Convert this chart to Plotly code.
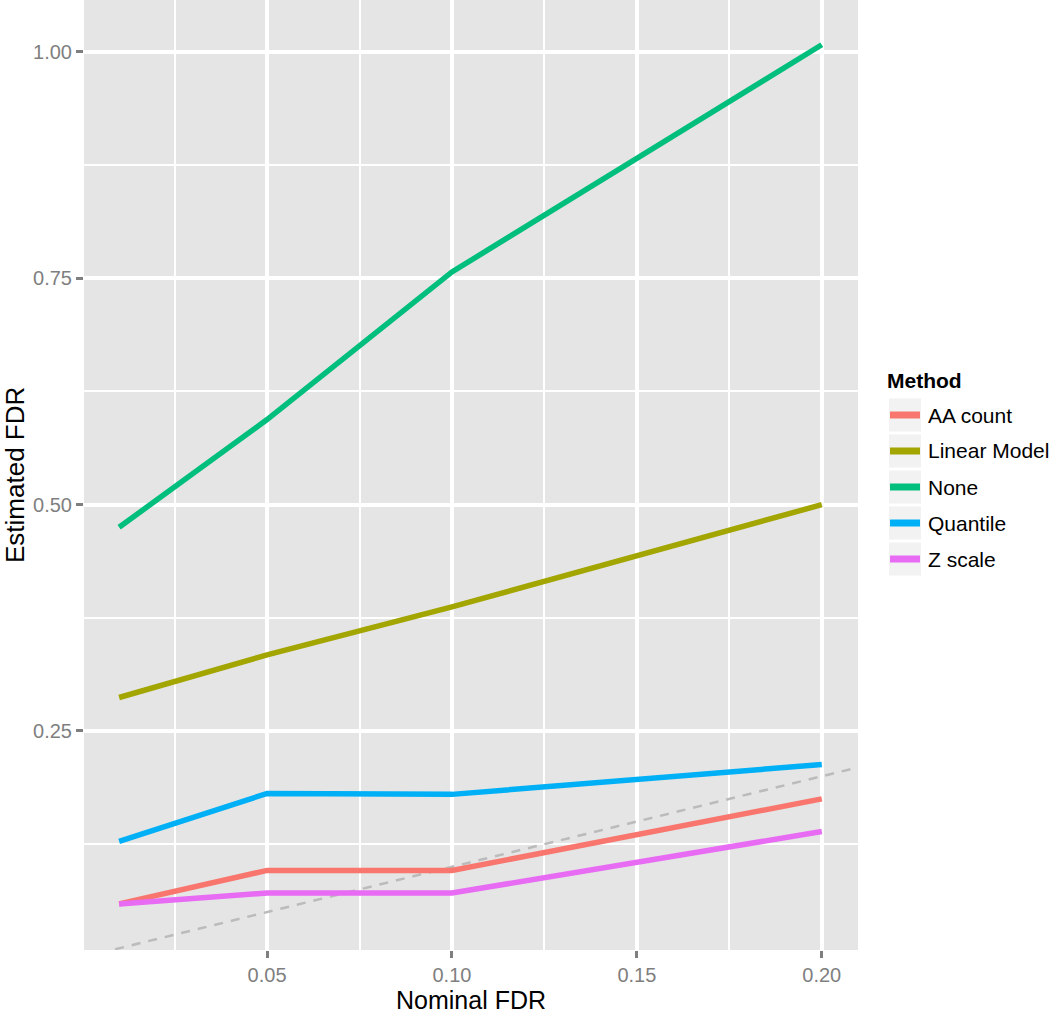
import plotly.graph_objects as go

# ---- data ----
nominal_fdr = [0.01, 0.05, 0.10, 0.20]
methods = ["AA count", "Linear Model", "None", "Quantile", "Z scale"]
aa_count = [0.059, 0.096, 0.096, 0.175]
linear_model = [0.287, 0.334, 0.387, 0.500]
none_vals = [0.475, 0.594, 0.757, 1.008]
quantile = [0.128, 0.181, 0.180, 0.213]
z_scale = [0.059, 0.071, 0.071, 0.139]
series = [aa_count, linear_model, none_vals, quantile, z_scale]
colors = ["#F8766D", "#A3A500", "#00BF7D", "#00B0F6", "#E76BF3"]
identity_line = [0.0, 0.25]
x_ticks = [0.05, 0.10, 0.15, 0.20]
y_ticks = [0.25, 0.50, 0.75, 1.00]

W, H = 1050, 1030
L, R, T, B = 84, 192, 0, 80
PW = W - L - R
PH = H - T - B

def px_x(px):
    return (px - L) / PW

def px_y(py):
    return (H - B - py) / PH

FONT = "Liberation Sans, Arial, sans-serif"
fig = go.Figure()

fig.add_trace(go.Scatter(x=identity_line, y=identity_line, mode="lines",
                         line=dict(color="#BBBBBB", width=2.5, dash="9px,8px"),
                         showlegend=False, hoverinfo="skip"))

for name, vals, col in zip(methods, series, colors):
    fig.add_trace(go.Scatter(x=nominal_fdr, y=vals, mode="lines", name=name,
                             line=dict(color=col, width=5.5), showlegend=False))

axis_common = dict(showline=False, zeroline=False, ticks="outside", ticklen=7,
                   tickwidth=3, tickcolor="#7F7F7F", showgrid=True,
                   gridcolor="white", gridwidth=3.5,
                   tickfont=dict(family=FONT, size=20, color="#7F7F7F"))

fig.update_xaxes(range=[0.0005, 0.2098], tickvals=x_ticks,
                 ticktext=[f"{v:.2f}" for v in x_ticks],
                 minor=dict(tickvals=[0.025, 0.075, 0.125, 0.175], showgrid=True,
                            gridcolor="white", gridwidth=1.5, ticks=""),
                 **axis_common)
fig.update_yaxes(range=[0.0081, 1.0574], tickvals=y_ticks,
                 ticktext=[f"{v:.2f}" for v in y_ticks],
                 minor=dict(tickvals=[0.125, 0.375, 0.625, 0.875], showgrid=True,
                            gridcolor="white", gridwidth=1.5, ticks=""),
                 **axis_common)

annotations = [
    dict(text="Nominal FDR", x=0.5, y=px_y(1000), xref="paper", yref="paper",
         showarrow=False, xanchor="center", yanchor="middle",
         font=dict(family=FONT, size=25, color="black")),
    dict(text="Estimated FDR", x=px_x(15), y=px_y(475), xref="paper", yref="paper",
         showarrow=False, xanchor="center", yanchor="middle", textangle=-90,
         font=dict(family=FONT, size=26, color="black")),
    dict(text="<b>Method</b>", x=px_x(885), y=px_y(380), xref="paper", yref="paper",
         showarrow=False, xanchor="left", yanchor="middle",
         font=dict(family=FONT, size=21, color="black")),
]
shapes = []
for i, (name, col) in enumerate(zip(methods, colors)):
    cy = 415 + 36 * i
    shapes.append(dict(type="rect", xref="paper", yref="paper",
                       x0=px_x(889), x1=px_x(921), y0=px_y(cy - 16.5), y1=px_y(cy + 16.5),
                       fillcolor="#F2F2F2", line=dict(width=0), layer="above"))
    shapes.append(dict(type="line", xref="paper", yref="paper",
                       x0=px_x(890), x1=px_x(920), y0=px_y(cy), y1=px_y(cy),
                       line=dict(color=col, width=7), layer="above"))
    annotations.append(dict(text=name, x=px_x(926), y=px_y(cy), xref="paper", yref="paper",
                            showarrow=False, xanchor="left", yanchor="middle",
                            font=dict(family=FONT, size=21, color="black")))

fig.update_layout(width=W, height=H, margin=dict(l=L, r=R, t=T, b=B, autoexpand=False),
                  plot_bgcolor="#E5E5E5", paper_bgcolor="white",
                  annotations=annotations, shapes=shapes, showlegend=False)

fig.write_html("out.html", config={"displayModeBar": False},
               post_script="document.body.style.margin='0';document.body.style.overflow='hidden';")
